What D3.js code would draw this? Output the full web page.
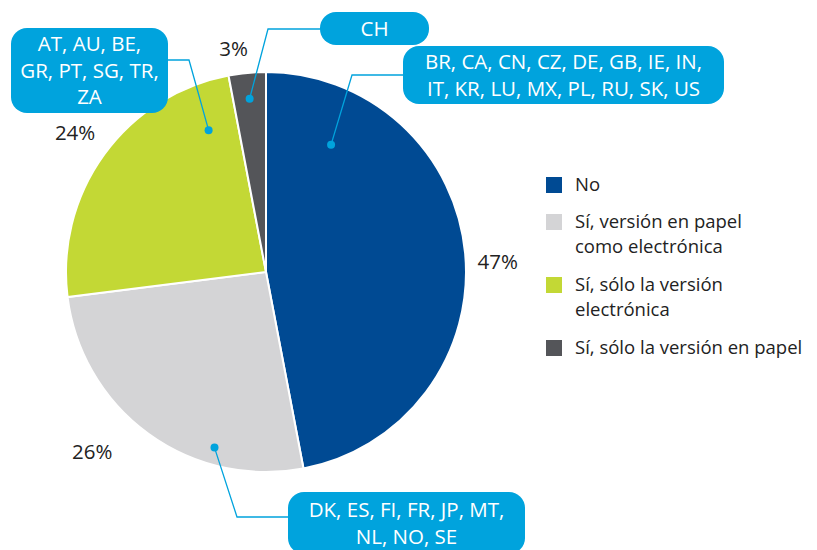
<!DOCTYPE html>
<html>
<head>
<meta charset="UTF-8">
<title>Pie</title>
<style>
body { margin:0; background:#fff; font-family:"Open Sans", sans-serif; }
svg { display:block; }
.pct { font-size:20.5px; fill:#222; }
.legend text { font-size:18.5px; fill:#222; }
.callout text { font-size:20.5px; fill:#fff; }
</style>
</head>
<body>
<svg width="817" height="550"></svg>
<script src="https://cdn.jsdelivr.net/npm/d3@7"></script>
<script>
// data
const categories = ['No', 'Sí, versión en papel como electrónica', 'Sí, sólo la versión electrónica', 'Sí, sólo la versión en papel'];
const legendLines = [['No'], ['Sí, versión en papel', 'como electrónica'], ['Sí, sólo la versión', 'electrónica'], ['Sí, sólo la versión en papel']];
const values = [47, 26, 24, 3];
const colors = ['#004a93', '#d4d4d6', '#c3d835', '#545559'];
const countries = [
  ['BR, CA, CN, CZ, DE, GB, IE, IN,', 'IT, KR, LU, MX, PL, RU, SK, US'],
  ['DK, ES, FI, FR, JP, MT,', 'NL, NO, SE'],
  ['AT, AU, BE,', 'GR, PT, SG, TR,', 'ZA'],
  ['CH']
];

const svg = d3.select('svg');
const cx = 266, cy = 272, R = 200;
const blue = '#00a3dd';
const g = svg.append('g').attr('transform', `translate(${cx},${cy})`);

const pie = d3.pie().sort(null).value(d => d)(values);
const arc = d3.arc().innerRadius(0).outerRadius(R);

g.selectAll('path.slice')
  .data(pie)
  .enter().append('path')
  .attr('class', 'slice')
  .attr('d', arc)
  .attr('fill', (d, i) => colors[i])
  .attr('stroke', '#fff')
  .attr('stroke-width', 2);

// percentage labels: a bit outside the rim, nudged like the original
const polar = (a, r) => [r * Math.sin(a), -r * Math.cos(a)];
const labelShift = [[0.05, 232], [0.14, 250], [0, 236], [-0.05, 226]];
g.selectAll('text.pct')
  .data(pie)
  .enter().append('text')
  .attr('class', 'pct')
  .attr('text-anchor', 'middle')
  .attr('dy', '0.35em')
  .attr('transform', (d, i) => {
    const a = (d.startAngle + d.endAngle) / 2 + labelShift[i][0];
    const p = polar(a, labelShift[i][1]);
    return `translate(${p[0]},${p[1]})`;
  })
  .text(d => d.value + '%');

// callouts: dot in slice, leader line, rounded box
const callouts = [
  { t: 0.16, r: 143, elbow: [352, 75], box: [403, 46, 321, 58], side: 'right' },
  { t: 0.29, r: 183, elbow: [237, 517], box: [288, 492, 237, 62], side: 'right' },
  { t: 0.87, r: 153, elbow: [189, 60], box: [11, 28, 157, 85], side: 'left' },
  { t: 0.5, r: 174, elbow: [268, 29], box: [320, 12, 109, 33], side: 'right' }
];
const co = svg.append('g').attr('class', 'callout');
pie.forEach((d, i) => {
  const c = callouts[i];
  const a = d.startAngle + (d.endAngle - d.startAngle) * c.t;
  const p = polar(a, c.r);
  const dot = [cx + p[0], cy + p[1]];
  const [bx, by, bw, bh] = c.box;
  const endX = c.side === 'right' ? bx : bx + bw;
  co.append('polyline')
    .attr('points', [dot, c.elbow, [endX, c.elbow[1]]].map(q => q.join(',')).join(' '))
    .attr('fill', 'none')
    .attr('stroke', blue)
    .attr('stroke-width', 1.3);
  co.append('circle').attr('cx', dot[0]).attr('cy', dot[1]).attr('r', 4).attr('fill', blue);
  co.append('rect')
    .attr('x', bx).attr('y', by).attr('width', bw).attr('height', bh)
    .attr('rx', 16).attr('fill', blue);
  const lines = countries[i];
  const lh = 26.5;
  const y0 = by + bh / 2 - (lines.length - 1) * lh / 2;
  co.append('text')
    .attr('text-anchor', 'middle')
    .selectAll('tspan')
    .data(lines)
    .enter().append('tspan')
    .attr('x', bx + bw / 2)
    .attr('y', (l, k) => y0 + k * lh)
    .attr('dy', '0.36em')
    .text(l => l);
});

// legend
const lg = svg.append('g').attr('class', 'legend').attr('transform', 'translate(546,0)');
const rowY = [185, 222, 285, 348];
categories.forEach((c, i) => {
  const row = lg.append('g').attr('transform', `translate(0,${rowY[i]})`);
  row.append('rect').attr('x', 0).attr('y', -8).attr('width', 16).attr('height', 16).attr('fill', colors[i]);
  row.append('text')
    .selectAll('tspan')
    .data(legendLines[i])
    .enter().append('tspan')
    .attr('x', 29)
    .attr('y', (l, k) => k * 25)
    .attr('dy', '0.35em')
    .text(l => l);
});
</script>
</body>
</html>
